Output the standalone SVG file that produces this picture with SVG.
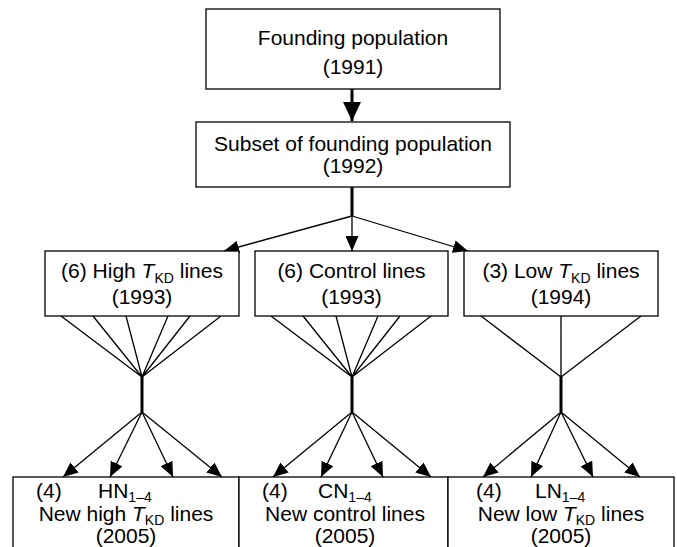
<svg xmlns="http://www.w3.org/2000/svg" width="677" height="547" viewBox="0 0 677 547">
<style>
.box{fill:#fff;stroke:#000;stroke-width:1.3}
text{font-family:"Liberation Sans",Arial,sans-serif;font-size:21px;fill:#000}
.m{text-anchor:middle}
.sub{font-size:14px}
.it{font-style:italic}
.thin{stroke:#000;stroke-width:1.3;fill:none}
.thick{stroke:#000;stroke-width:3;fill:none}
</style>
<defs>
<marker id="ah" viewBox="0 0 15 13" refX="15" refY="6.5" markerWidth="15" markerHeight="13" markerUnits="userSpaceOnUse" orient="auto"><path d="M0,0 L15,6.5 L0,13 z" fill="#000"/></marker>
<marker id="big" viewBox="0 0 19 18" refX="19" refY="9" markerWidth="19" markerHeight="18" markerUnits="userSpaceOnUse" orient="auto"><path d="M0,0 L19,9 L0,18 z" fill="#000"/></marker>
</defs>
<g id="connectors">
<line class="thick" x1="352" y1="89" x2="352" y2="121" marker-end="url(#big)"/>
<line class="thick" x1="352" y1="187" x2="352" y2="216"/>
<line class="thin" x1="352" y1="216" x2="224" y2="251" marker-end="url(#ah)"/>
<line class="thin" x1="352" y1="216" x2="352" y2="251" marker-end="url(#ah)"/>
<line class="thin" x1="352" y1="216" x2="468" y2="251" marker-end="url(#ah)"/>
<path class="thin" d="M61,316 L142,377 M93,316 L142,377 M126,316 L142,377 M168,316 L142,377 M190,316 L142,377 M221,316 L142,377"/>
<path class="thin" d="M271,316 L352,377 M303,316 L352,377 M336,316 L352,377 M378,316 L352,377 M400,316 L352,377 M431,316 L352,377"/>
<path class="thin" d="M481,316 L561,377 M561,316 L561,377 M641,316 L561,377"/>
<line class="thick" x1="142" y1="376" x2="142" y2="412"/>
<line class="thick" x1="352" y1="376" x2="352" y2="412"/>
<line class="thick" x1="561" y1="376" x2="561" y2="412"/>
<g marker-end="url(#ah)">
<line class="thin" x1="142" y1="412" x2="63" y2="477"/>
<line class="thin" x1="142" y1="412" x2="110" y2="477"/>
<line class="thin" x1="142" y1="412" x2="173" y2="477"/>
<line class="thin" x1="142" y1="412" x2="222" y2="477"/>
<line class="thin" x1="352" y1="412" x2="273" y2="477"/>
<line class="thin" x1="352" y1="412" x2="321" y2="477"/>
<line class="thin" x1="352" y1="412" x2="383" y2="477"/>
<line class="thin" x1="352" y1="412" x2="431" y2="477"/>
<line class="thin" x1="561" y1="412" x2="483" y2="477"/>
<line class="thin" x1="561" y1="412" x2="531" y2="477"/>
<line class="thin" x1="561" y1="412" x2="593" y2="477"/>
<line class="thin" x1="561" y1="412" x2="640" y2="477"/>
</g>
</g>
<g id="founding">
<rect class="box" x="206" y="9" width="294" height="80"/>
<text class="m" x="353" y="45">Founding population</text>
<text class="m" x="353" y="74">(1991)</text>
</g>
<g id="subset">
<rect class="box" x="196" y="122" width="314" height="65"/>
<text class="m" x="353" y="150.5">Subset of founding population</text>
<text class="m" x="353" y="172.5">(1992)</text>
</g>
<g id="high">
<rect class="box" x="45" y="251" width="194" height="65"/>
<text class="m" x="142" y="278">(6) High <tspan class="it">T</tspan><tspan class="sub" dy="5">KD</tspan><tspan dy="-5"> lines</tspan></text>
<text class="m" x="142" y="304">(1993)</text>
</g>
<g id="control">
<rect class="box" x="255" y="251" width="193" height="65"/>
<text class="m" x="351.5" y="278">(6) Control lines</text>
<text class="m" x="351.5" y="304">(1993)</text>
</g>
<g id="low">
<rect class="box" x="464" y="251" width="194" height="65"/>
<text class="m" x="561" y="278">(3) Low <tspan class="it">T</tspan><tspan class="sub" dy="5">KD</tspan><tspan dy="-5"> lines</tspan></text>
<text class="m" x="561" y="304">(1994)</text>
</g>
<g id="newhigh">
<rect class="box" x="13" y="477" width="226" height="90"/>
<text x="36" y="498">(4)</text>
<text x="98" y="498">HN<tspan class="sub" dy="4">1–4</tspan></text>
<text class="m" x="126" y="521">New high <tspan class="it">T</tspan><tspan class="sub" dy="4">KD</tspan><tspan dy="-4"> lines</tspan></text>
<text class="m" x="126" y="543">(2005)</text>
</g>
<g id="newcontrol">
<rect class="box" x="239" y="477" width="209" height="90"/>
<text x="262" y="498">(4)</text>
<text x="318" y="498">CN<tspan class="sub" dy="4">1–4</tspan></text>
<text class="m" x="345" y="521">New control lines</text>
<text class="m" x="345" y="543">(2005)</text>
</g>
<g id="newlow">
<rect class="box" x="448" y="477" width="226" height="90"/>
<text x="476" y="498">(4)</text>
<text x="535" y="498">LN<tspan class="sub" dy="4">1–4</tspan></text>
<text class="m" x="561" y="521">New low <tspan class="it">T</tspan><tspan class="sub" dy="4">KD</tspan><tspan dy="-4"> lines</tspan></text>
<text class="m" x="561" y="543">(2005)</text>
</g>
</svg>
